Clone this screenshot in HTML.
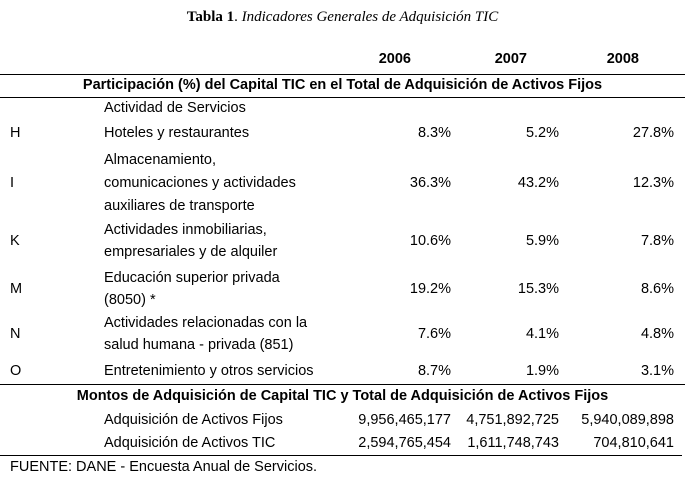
<!DOCTYPE html>
<html><head><meta charset="utf-8"><style>
body{margin:0;background:#fff;}
#c{position:relative;width:685px;height:481px;overflow:hidden;font-family:"Liberation Sans",sans-serif;font-size:14.5px;color:#000;}
.t{position:absolute;height:18px;line-height:18px;white-space:nowrap;}
.r{text-align:right;}
.ln{position:absolute;left:0;height:1px;background:#000;}
.b{font-weight:bold;}
</style></head><body>
<div id="c">
<div class="t" style="left:0;width:685px;text-align:center;top:8px;font-family:'Liberation Serif',serif;font-size:15px;"><b>Tabla 1</b>. <i>Indicadores Generales de Adquisición TIC</i></div>
<div class="t b r" style="left:311px;width:100px;top:50px;">2006</div>
<div class="t b r" style="left:427px;width:100px;top:50px;">2007</div>
<div class="t b r" style="left:539px;width:100px;top:50px;">2008</div>
<div class="ln" style="top:74px;width:685px;"></div>
<div class="t b" style="left:0;width:685px;text-align:center;top:76px;">Participación (%) del Capital TIC en el Total de Adquisición de Activos Fijos</div>
<div class="ln" style="top:97px;width:685px;"></div>
<div class="ln" style="top:384px;width:685px;"></div>
<div class="t b" style="left:0;width:685px;text-align:center;top:387px;">Montos de Adquisición de Capital TIC y Total de Adquisición de Activos Fijos</div>
<div class="ln" style="top:455px;width:682px;"></div>
<div class="t" style="left:10px;top:458px;">FUENTE: DANE - Encuesta Anual de Servicios.</div>
</div>
<script>
const codes=["","H","I","K","M","N","O"];
const labels=[["Actividad de Servicios"],["Hoteles y restaurantes"],["Almacenamiento,","comunicaciones y actividades","auxiliares de transporte"],["Actividades inmobiliarias,","empresariales y de alquiler"],["Educación superior privada","(8050) *"],["Actividades relacionadas con la","salud humana - privada (851)"],["Entretenimiento y otros servicios"]];
const v2006=[null,"8.3%","36.3%","10.6%","19.2%","7.6%","8.7%"];
const v2007=[null,"5.2%","43.2%","5.9%","15.3%","4.1%","1.9%"];
const v2008=[null,"27.8%","12.3%","7.8%","8.6%","4.8%","3.1%"];
const amtLabels=["Adquisición de Activos Fijos","Adquisición de Activos TIC"];
const amt2006=["9,956,465,177","2,594,765,454"];
const amt2007=["4,751,892,725","1,611,748,743"];
const amt2008=["5,940,089,898","704,810,641"];
const rowCenters=[108,133,183,241,289,334,371];
const lineGap=[0,0,23,22,22,22,0];
const colRight=[451,559,674];
const host=document.getElementById('c');
function txt(s,left,cy,right){
  const d=document.createElement('div');
  d.className='t'+(right?' r':'');
  d.textContent=s;
  if(right){d.style.left=(left-200)+'px';d.style.width='200px';}else d.style.left=left+'px';
  d.style.top=(cy-9)+'px';
  host.appendChild(d);return d;
}
labels.forEach((ls,i)=>{
  const cy=rowCenters[i];
  if(codes[i]){const c=txt(codes[i],10,cy);

}
  const n=ls.length;
  ls.forEach((l,j)=>{const y=cy+(j-(n-1)/2)*lineGap[i];const e=txt(l,104,y);

});
  [v2006,v2007,v2008].forEach((arr,k)=>{if(arr[i]){const e=txt(arr[i],colRight[k],cy,true);

}});
});
const amtCenters=[420,443];
amtLabels.forEach((l,i)=>{
  const e=txt(l,104,amtCenters[i]);


  [amt2006,amt2007,amt2008].forEach((arr,k)=>{const c=txt(arr[i],colRight[k],amtCenters[i],true);

});
});
</script>
</body></html>
